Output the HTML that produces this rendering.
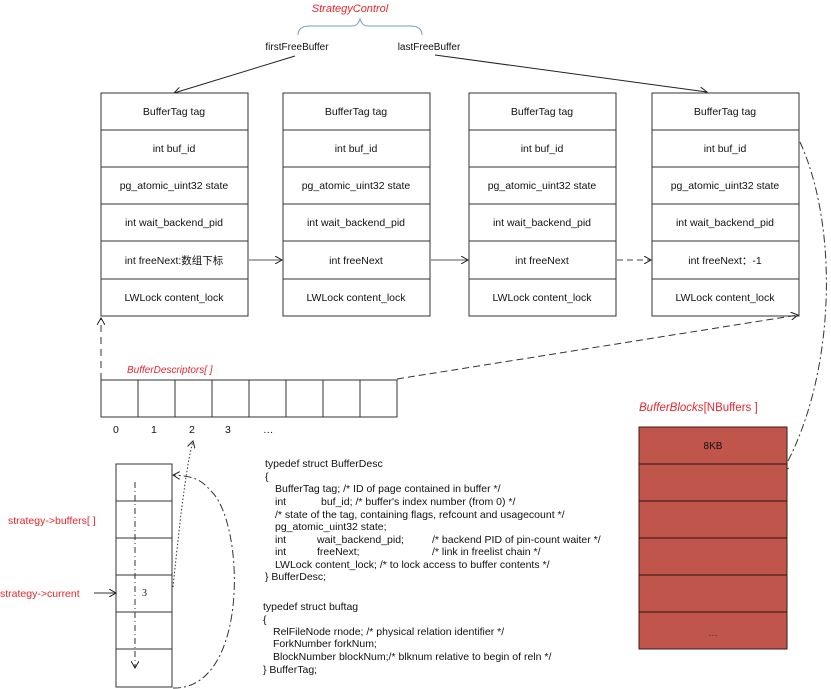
<!DOCTYPE html>
<html><head><meta charset="utf-8"><style>
html,body{margin:0;padding:0;background:#fff}
svg{display:block}
text{font-family:"Liberation Sans","Noto Sans CJK SC",sans-serif;font-size:10.5px;fill:#111}
.r{fill:#e8262c;font-style:italic}
.c{font-size:9.5px}
</style></head><body>
<svg width="831" height="689" viewBox="0 0 831 689" xmlns="http://www.w3.org/2000/svg">
<defs>
<marker id="a" markerWidth="8" markerHeight="8" refX="7" refY="4" orient="auto" markerUnits="userSpaceOnUse"><path d="M0,0 L7,4 L0,8" fill="none" stroke="#222" stroke-width="1"/></marker>
</defs>
<!-- StrategyControl -->
<text x="350" y="12" class="r" text-anchor="middle" style="font-size:11px">StrategyControl</text>
<path d="M298,35 Q298,26 310,26 L352,26 Q358,26 360,19 Q362,26 368,26 L410,26 Q422,26 422,35" fill="none" stroke="#7a9cc6" stroke-width="1"/>
<text x="297" y="50" text-anchor="middle" style="font-size:10px">firstFreeBuffer</text>
<text x="429" y="50" text-anchor="middle" style="font-size:10px">lastFreeBuffer</text>
<line x1="295" y1="56" x2="174" y2="93" stroke="#222" marker-end="url(#a)"/>
<line x1="435" y1="55" x2="707" y2="92" stroke="#222" marker-end="url(#a)"/>
<!-- descriptor boxes -->
<g fill="#fff" stroke="#333" stroke-width="1">
<rect x="101" y="93" width="147" height="223"/>
<rect x="283" y="93" width="147" height="223"/>
<rect x="469" y="93" width="147" height="223"/>
<rect x="652" y="93" width="147" height="223"/>
</g>
<g stroke="#333" stroke-width="1">
<path d="M101,130H248M101,167H248M101,204H248M101,241H248M101,279H248"/>
<path d="M283,130H430M283,167H430M283,204H430M283,241H430M283,279H430"/>
<path d="M469,130H616M469,167H616M469,204H616M469,241H616M469,279H616"/>
<path d="M652,130H799M652,167H799M652,204H799M652,241H799M652,279H799"/>
</g>
<g text-anchor="middle">
<text x="174" y="115">BufferTag tag</text><text x="174" y="152">int buf_id</text><text x="174" y="189">pg_atomic_uint32 state</text><text x="174" y="226">int wait_backend_pid</text><text x="174" y="264">int freeNext:数组下标</text><text x="174" y="301">LWLock content_lock</text>
<text x="356" y="115">BufferTag tag</text><text x="356" y="152">int buf_id</text><text x="356" y="189">pg_atomic_uint32 state</text><text x="356" y="226">int wait_backend_pid</text><text x="356" y="264">int freeNext</text><text x="356" y="301">LWLock content_lock</text>
<text x="542" y="115">BufferTag tag</text><text x="542" y="152">int buf_id</text><text x="542" y="189">pg_atomic_uint32 state</text><text x="542" y="226">int wait_backend_pid</text><text x="542" y="264">int freeNext</text><text x="542" y="301">LWLock content_lock</text>
<text x="725" y="115">BufferTag tag</text><text x="725" y="152">int buf_id</text><text x="725" y="189">pg_atomic_uint32 state</text><text x="725" y="226">int wait_backend_pid</text><text x="725" y="264">int freeNext：-1</text><text x="725" y="301">LWLock content_lock</text>
</g>
<line x1="249" y1="260" x2="282" y2="260" stroke="#555" marker-end="url(#a)"/>
<line x1="431" y1="260" x2="468" y2="260" stroke="#555" marker-end="url(#a)"/>
<line x1="617" y1="260" x2="651" y2="260" stroke="#444" stroke-dasharray="6,4" marker-end="url(#a)"/>
<!-- dashed from array to box 1 and box 4 -->
<line x1="101" y1="380" x2="101" y2="318" stroke="#333" stroke-dasharray="7,5" marker-end="url(#a)"/>
<line x1="397" y1="379" x2="798" y2="315" stroke="#333" stroke-dasharray="7,4" marker-end="url(#a)"/>
<!-- dash-dot from buf_id to blocks -->
<path d="M800,142 C840,230 835,380 782,472" fill="none" stroke="#333" stroke-dasharray="8,3,2,3" marker-end="url(#a)"/>
<!-- BufferDescriptors array -->
<text x="127" y="373" class="r" style="font-size:10px">BufferDescriptors[ ]</text>
<rect x="101" y="380" width="296" height="37" fill="none" stroke="#333"/>
<path d="M138,380V417M175,380V417M212,380V417M249,380V417M286,380V417M323,380V417M360,380V417" stroke="#333"/>
<g style="font-family:'Liberation Serif',serif;font-size:10px">
<text x="113" y="433">0</text><text x="151" y="433">1</text><text x="189" y="433">2</text><text x="225" y="433">3</text><text x="263" y="433">…</text>
</g>
<!-- strategy buffers array -->
<rect x="116" y="464" width="56" height="223" fill="#fff" stroke="#333"/>
<path d="M116,501H172M116,538H172M116,575H172M116,612H172M116,649H172" stroke="#333"/>
<line x1="135" y1="482" x2="135" y2="668" stroke="#333" stroke-dasharray="6,3,1,3" marker-end="url(#a)"/>
<text x="142" y="596" style="font-family:'Liberation Serif',serif;font-size:10px">3</text>
<path d="M173,587 C178,540 185,470 193,441" fill="none" stroke="#333" stroke-dasharray="1.5,2" marker-end="url(#a)"/>
<path d="M173,688 C250,690 245,520 210,490 C200,478 190,476 173,475" fill="none" stroke="#333" stroke-dasharray="8,3,2,3" marker-end="url(#a)"/>
<text x="8" y="524" style="fill:#e8262c;font-size:10.5px">strategy-&gt;buffers[ ]</text>
<text x="0" y="597" style="fill:#e8262c;font-size:10.5px">strategy-&gt;current</text>
<line x1="94" y1="593" x2="116" y2="593" stroke="#333" marker-end="url(#a)"/>
<!-- code -->
<g class="c">
<text x="265" y="467">typedef struct BufferDesc</text>
<text x="265" y="480">{</text>
<text x="275" y="492">BufferTag  tag;        /* ID of page contained in buffer */</text>
<text x="275" y="505">int</text><text x="321" y="505">buf_id; /* buffer's index number (from 0) */</text>
<text x="275" y="518">/* state of the tag, containing flags, refcount and usagecount */</text>
<text x="275" y="530">pg_atomic_uint32 state;</text>
<text x="275" y="543">int</text><text x="317" y="543">wait_backend_pid;</text><text x="432" y="543">/* backend PID of pin-count waiter */</text>
<text x="275" y="555">int</text><text x="317" y="555">freeNext;</text><text x="432" y="555">/* link in freelist chain */</text>
<text x="275" y="568">LWLock    content_lock; /* to lock access to buffer contents */</text>
<text x="265" y="580">} BufferDesc;</text>
<text x="263" y="610">typedef struct buftag</text>
<text x="263" y="623">{</text>
<text x="273" y="635">RelFileNode rnode;         /* physical relation identifier */</text>
<text x="273" y="647">ForkNumber forkNum;</text>
<text x="273" y="660">BlockNumber blockNum;/* blknum relative to begin of reln */</text>
<text x="263" y="673">} BufferTag;</text>
</g>
<!-- BufferBlocks -->
<text x="639" y="411" class="r" style="font-size:11.5px">BufferBlocks<tspan style="font-style:normal">[NBuffers ]</tspan></text>
<rect x="639" y="427" width="148" height="222" fill="#c0564b" stroke="#3a1a16"/>
<path d="M639,464H787M639,501H787M639,538H787M639,575H787M639,612H787" stroke="#2a1410"/>
<text x="713" y="449" text-anchor="middle" style="font-size:10px">8KB</text>
<text x="713" y="636" text-anchor="middle" style="font-size:10px;fill:#5a2a24">…</text>
</svg>
</body></html>
